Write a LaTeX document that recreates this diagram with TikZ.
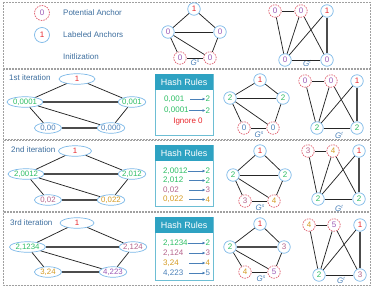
\documentclass[tikz,border=0pt]{standalone}
\usepackage{fontspec}
\setmainfont{Liberation Sans}
\usetikzlibrary{shapes.geometric,arrows.meta}
\definecolor{cblue}{HTML}{7DB9E8}
\definecolor{cred}{HTML}{E06070}
\definecolor{tpur}{HTML}{9B59B6}
\definecolor{tred}{HTML}{E8262B}
\definecolor{tgrn}{HTML}{2DBE64}
\definecolor{tmau}{HTML}{B5648C}
\definecolor{tgld}{HTML}{D49A22}
\definecolor{tblu}{HTML}{4A80B8}
\definecolor{ttxt}{HTML}{3D6E9E}
\definecolor{hteal}{HTML}{2EA2C2}
\definecolor{pgray}{HTML}{A0A0A0}
\tikzset{
  anc/.style={circle, draw=cblue, line width=0.7pt, fill=white, minimum size=12.5pt, inner sep=0pt, font=\fontsize{8}{9}\selectfont},
  pot/.style={anc, draw=cred, dash pattern=on 1.6pt off 1pt},
  ell/.style={ellipse, draw=cblue, line width=0.7pt, fill=white, minimum width=27pt, minimum height=10.5pt, inner sep=0pt, font=\fontsize{7.8}{9}\selectfont},
  wide/.style={minimum width=36pt},
  edge/.style={line width=0.75pt, draw=black!85},
  tedge/.style={line width=1.2pt, draw=black!70},
  panel/.style={draw=pgray, line width=0.8pt, dash pattern=on 2pt off 1pt},
  lbl/.style={font=\fontsize{8}{9}\selectfont, text=ttxt, anchor=west, inner sep=0pt},
  glbl/.style={font=\fontsize{8}{9}\selectfont, text=tblu, inner sep=0pt},
  hbox/.style={draw=hteal!70, line width=0.8pt, anchor=north west, inner sep=0pt, minimum width=58pt},
  hhead/.style={fill=hteal, anchor=north west, text=white, font=\fontsize{9}{10}\selectfont, inner sep=0pt, minimum width=58pt, minimum height=16pt},
  rul/.style={font=\fontsize{8}{9}\selectfont, anchor=west, inner sep=0pt},
  harr/.style={-{Latex[length=3pt,width=3pt]}, draw=tblu, line width=0.8pt}
}
\newcommand{\Gs}{{\itshape G}\raisebox{3pt}{\fontsize{5}{5}\selectfont\itshape s}}
\newcommand{\Gt}{{\itshape G}\raisebox{3pt}{\fontsize{5}{5}\selectfont\itshape t}}
\begin{document}
\begin{tikzpicture}[x=1pt,y=-1pt]
\useasboundingbox (0,0) rectangle (374,287);
% panels
\draw[panel] (3,2) rectangle (370,68);
\draw[panel] (3,69) rectangle (370,139.5);
\draw[panel] (3,140.5) rectangle (370,211.5);
\draw[panel] (3,212.5) rectangle (370,285);

% ===== panel 1: legend =====
\node[pot, minimum size=15pt, text=tpur] (legp) at (42,13) {0};
\node[anc, minimum size=15pt, text=tred] (legl) at (42,35) {1};
\node[lbl] (legpt) at (63,13) {Potential Anchor};
\node[lbl] (leglt) at (63,35) {Labeled Anchors};
\node[lbl] (legit) at (63,57) {Initlization};

% Gs panel 1
\node[anc, text=tred] (s1a) at (194,9) {1};
\node[anc, text=tpur] (s1l) at (168,32) {0};
\node[anc, text=tpur] (s1r) at (220,32) {0};
\node[pot, text=tpur] (s1bl) at (180,58) {0};
\node[pot, text=tpur] (s1br) at (210,58) {0};
\node[glbl] (s1g) at (195,63) {\Gs};
\draw[edge] (s1a)--(s1l); \draw[edge] (s1a)--(s1r); \draw[edge] (s1l)--(s1r);
\draw[edge] (s1l)--(s1bl); \draw[edge] (s1l)--(s1br); \draw[edge] (s1bl)--(s1br);
\draw[edge] (s1r)--(s1br);

% Gt panel 1
\node[pot, text=tpur] (t1a) at (275,11) {0};
\node[pot, text=tpur] (t1b) at (301,11) {0};
\node[anc, text=tred] (t1c) at (327,11) {1};
\node[anc, text=tpur] (t1d) at (285,60) {0};
\node[anc, text=tpur] (t1e) at (327,60) {0};
\node[glbl] (t1g) at (307,63) {\Gt};
\draw[edge] (t1a)--(t1b); \draw[edge] (t1a)--(t1d); \draw[edge] (t1b)--(t1d);
\draw[edge] (t1b)--(t1e); \draw[edge] (t1c)--(t1d); \draw[tedge] (t1c)--(t1e);
\draw[edge] (t1d)--(t1e);

% ===== panel 2 =====
\node[lbl] (it1) at (9,78) {1st iteration};
\node[ell, wide, text=tred] (e1a) at (77,79) {1};
\node[ell, wide, text=tgrn] (e1l) at (25,102) {0,0001};
\node[ell, text=tgrn] (e1r) at (132,102) {0,001};
\node[ell, text=tblu] (e1bl) at (48,128) {0,00};
\node[ell, text=tblu] (e1br) at (111,128) {0,000};
\draw[edge] (e1a)--(e1l); \draw[edge] (e1a)--(e1r); \draw[tedge] (e1l)--(e1r);
\draw[edge] (e1l)--(e1bl); \draw[edge] (e1l)--(e1br); \draw[tedge] (e1bl)--(e1br);
\draw[edge] (e1r)--(e1br);

\node[hbox, minimum height=61pt] (h1) at (155,74) {};
\node[hhead] (h1h) at (155,74) {Hash Rules};
\node[rul, text=tgrn] (h1r1) at (164,99) {0,001};
\node[rul, text=tgrn] (h1v1) at (205.5,99) {2};
\coordinate (h1a1) at (190,99);
\draw[harr] (h1a1) -- (h1v1.west);
\node[rul, text=tgrn] (h1r2) at (164,110.5) {0,0001};
\node[rul, text=tgrn] (h1v2) at (205.5,110.5) {2};
\draw[harr] (h1r2.east) -- (h1v2.west);
\node[rul, text=tred, anchor=center] (h1r3) at (188,122) {Ignore 0};

% Gs panel 2
\node[anc, text=tred] (s2a) at (260,80) {1};
\node[anc, text=tgrn] (s2l) at (230,98) {2};
\node[anc, text=tgrn] (s2r) at (283,98) {2};
\node[pot, text=tblu] (s2bl) at (244,128) {0};
\node[pot, text=tblu] (s2br) at (273,128) {0};
\node[glbl] (s2g) at (259,135) {\Gs};
\draw[edge] (s2a)--(s2l); \draw[edge] (s2a)--(s2r); \draw[edge] (s2l)--(s2r);
\draw[edge] (s2l)--(s2bl); \draw[edge] (s2l)--(s2br); \draw[edge] (s2bl)--(s2br);
\draw[edge] (s2r)--(s2br);

% Gt panel 2
\node[pot, text=tpur] (t2a) at (305,81) {0};
\node[pot, text=tpur] (t2b) at (331,81) {0};
\node[anc, text=tred] (t2c) at (357,81) {1};
\node[anc, text=tgrn] (t2d) at (317,128) {2};
\node[anc, text=tgrn] (t2e) at (357,128) {2};
\node[glbl] (t2g) at (339,135.5) {\Gt};
\draw[edge] (t2a)--(t2b); \draw[edge] (t2a)--(t2d); \draw[edge] (t2b)--(t2d);
\draw[edge] (t2b)--(t2e); \draw[edge] (t2c)--(t2d); \draw[tedge] (t2c)--(t2e);
\draw[edge] (t2d)--(t2e);

% ===== panel 3 =====
\node[lbl] (it2) at (11,150) {2nd iteration};
\node[ell, minimum width=33pt, text=tred] (e2a) at (75,151) {1};
\node[ell, wide, text=tgrn] (e2l) at (26,174) {2,0012};
\node[ell, text=tgrn] (e2r) at (132,174) {2,012};
\node[ell, text=tmau] (e2bl) at (48,200) {0,02};
\node[ell, text=tgld] (e2br) at (111,200) {0,022};
\draw[edge] (e2a)--(e2l); \draw[edge] (e2a)--(e2r); \draw[tedge] (e2l)--(e2r);
\draw[edge] (e2l)--(e2bl); \draw[edge] (e2l)--(e2br); \draw[tedge] (e2bl)--(e2br);
\draw[edge] (e2r)--(e2br);

\node[hbox, minimum height=61pt] (h2) at (155,145) {};
\node[hhead] (h2h) at (155,145) {Hash Rules};
\node[rul, text=tgrn] (h2r1) at (163,171) {2,0012};
\node[rul, text=tgrn] (h2v1) at (205.5,171) {2};
\node[rul, text=tgrn] (h2r2) at (163,180.5) {2,012};
\node[rul, text=tgrn] (h2v2) at (205.5,180.5) {2};
\node[rul, text=tmau] (h2r3) at (163,190) {0,02};
\node[rul, text=tmau] (h2v3) at (205.5,190) {3};
\node[rul, text=tgld] (h2r4) at (163,199.5) {0,022};
\node[rul, text=tgld] (h2v4) at (205.5,199.5) {4};
\coordinate (h2a2) at (189,180.5);
\coordinate (h2a3) at (189,190);
\coordinate (h2a4) at (189,199.5);
\draw[harr] (h2r1.east) -- (h2v1.west);
\draw[harr] (h2a2) -- (h2v2.west);
\draw[harr] (h2a3) -- (h2v3.west);
\draw[harr] (h2a4) -- (h2v4.west);

% Gs panel 3
\node[anc, text=tred] (s3a) at (260,151) {1};
\node[anc, text=tgrn] (s3l) at (233,175) {2};
\node[anc, text=tgrn] (s3r) at (285,175) {2};
\node[pot, text=tmau] (s3bl) at (245,201) {3};
\node[pot, text=tgld] (s3br) at (274,201) {4};
\node[glbl] (s3g) at (260,208) {\Gs};
\draw[edge] (s3a)--(s3l); \draw[edge] (s3a)--(s3r); \draw[edge] (s3l)--(s3r);
\draw[edge] (s3l)--(s3bl); \draw[edge] (s3l)--(s3br); \draw[edge] (s3bl)--(s3br);
\draw[edge] (s3r)--(s3br);

% Gt panel 3
\node[pot, text=tmau] (t3a) at (308,151) {3};
\node[pot, text=tgld] (t3b) at (333,151) {4};
\node[anc, text=tred] (t3c) at (359,151) {1};
\node[anc, text=tgrn] (t3d) at (318,199) {2};
\node[anc, text=tgrn] (t3e) at (359,199) {2};
\node[glbl] (t3g) at (339,208) {\Gt};
\draw[edge] (t3a)--(t3b); \draw[edge] (t3a)--(t3d); \draw[edge] (t3b)--(t3d);
\draw[edge] (t3b)--(t3e); \draw[edge] (t3c)--(t3d); \draw[tedge] (t3c)--(t3e);
\draw[edge] (t3d)--(t3e);

% ===== panel 4 =====
\node[lbl] (it3) at (10,223) {3rd iteration};
\node[ell, minimum width=34pt, text=tred] (e3a) at (77,223) {1};
\node[ell, wide, text=tgrn] (e3l) at (27.5,247) {2,1234};
\node[ell, text=tmau] (e3r) at (133,247) {2,124};
\node[ell, text=tgld] (e3bl) at (48,272) {3,24};
\node[ell, text=tpur] (e3br) at (113,272) {4,223};
\draw[edge] (e3a)--(e3l); \draw[edge] (e3a)--(e3r); \draw[tedge] (e3l)--(e3r);
\draw[edge] (e3l)--(e3bl); \draw[edge] (e3l)--(e3br); \draw[tedge] (e3bl)--(e3br);
\draw[edge] (e3r)--(e3br);

\node[hbox, minimum height=63pt] (h3) at (155,217) {};
\node[hhead] (h3h) at (155,217) {Hash Rules};
\node[rul, text=tgrn] (h3r1) at (163,243) {2,1234};
\node[rul, text=tgrn] (h3v1) at (205.5,243) {2};
\node[rul, text=tmau] (h3r2) at (163,253) {2,124};
\node[rul, text=tmau] (h3v2) at (205.5,253) {3};
\node[rul, text=tgld] (h3r3) at (163,263) {3,24};
\node[rul, text=tgld] (h3v3) at (205.5,263) {4};
\node[rul, text=tblu] (h3r4) at (163,273) {4,223};
\node[rul, text=tblu] (h3v4) at (205.5,273) {5};
\coordinate (h3a2) at (189,253);
\coordinate (h3a3) at (189,263);
\coordinate (h3a4) at (189,273);
\draw[harr] (h3r1.east) -- (h3v1.west);
\draw[harr] (h3a2) -- (h3v2.west);
\draw[harr] (h3a3) -- (h3v3.west);
\draw[harr] (h3a4) -- (h3v4.west);

% Gs panel 4
\node[anc, text=tred] (s4a) at (260,224) {1};
\node[anc, text=tgrn] (s4l) at (230,247) {2};
\node[anc, text=tmau] (s4r) at (284,247) {3};
\node[pot, text=tgld] (s4bl) at (245,272) {4};
\node[pot, text=tpur] (s4br) at (274,272) {5};
\node[glbl] (s4g) at (261,279) {\Gs};
\draw[edge] (s4a)--(s4l); \draw[edge] (s4a)--(s4r); \draw[tedge] (s4l)--(s4r);
\draw[edge] (s4l)--(s4bl); \draw[edge] (s4l)--(s4br); \draw[edge] (s4bl)--(s4br);
\draw[edge] (s4r)--(s4br);

% Gt panel 4
\node[pot, text=tgld] (t4a) at (309,225) {4};
\node[pot, text=tpur] (t4b) at (334,225) {5};
\node[anc, text=tred] (t4c) at (360,225) {1};
\node[anc, text=tgrn] (t4d) at (319,275) {2};
\node[anc, text=tmau] (t4e) at (360,275) {3};
\node[glbl] (t4g) at (341,280) {\Gt};
\draw[edge] (t4a)--(t4b); \draw[edge] (t4a)--(t4d); \draw[edge] (t4b)--(t4d);
\draw[edge] (t4b)--(t4e); \draw[edge] (t4c)--(t4d); \draw[tedge] (t4c)--(t4e);
\draw[edge] (t4d)--(t4e);
\end{tikzpicture}
\end{document}
